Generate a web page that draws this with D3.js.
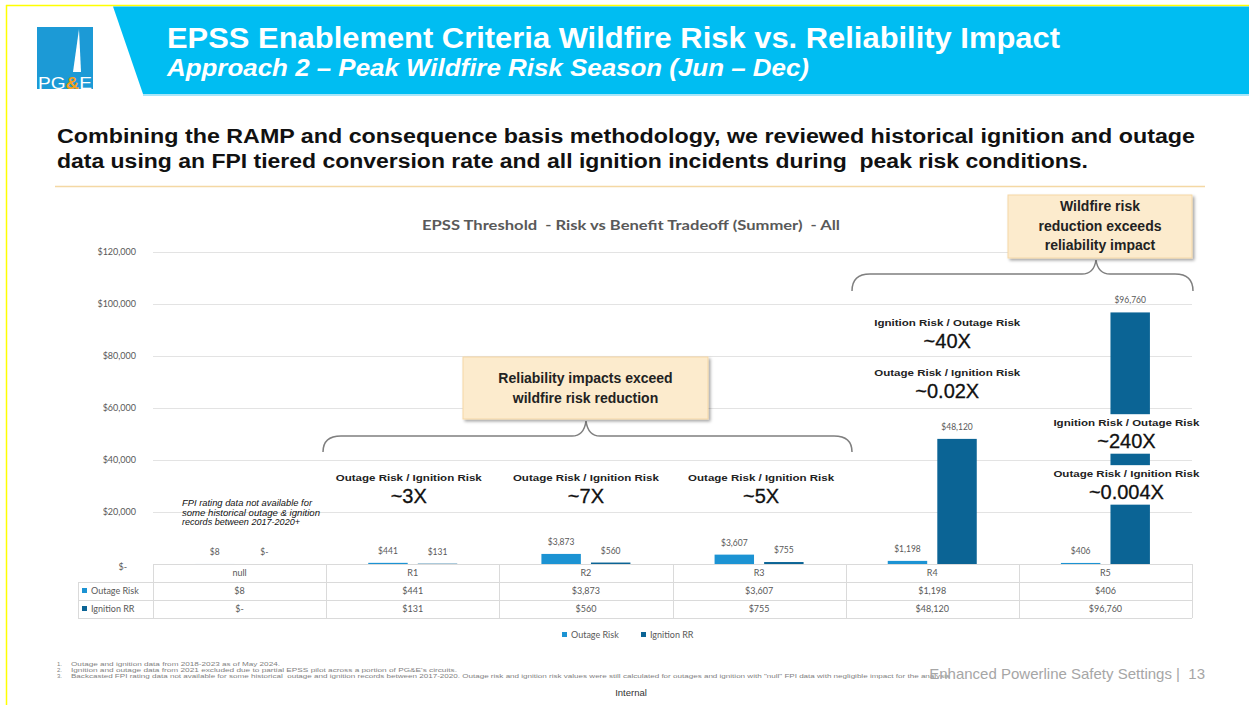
<!DOCTYPE html>
<html>
<head>
<meta charset="utf-8">
<script src="https://cdn.jsdelivr.net/npm/d3@7"></script>
<style>
  body { margin: 0; background: #fff; }
  text { white-space: pre; }
</style>
</head>
<body>
<script>
// Chart data
var categories = ["null", "R1", "R2", "R3", "R4", "R5"];
var seriesNames = ["Outage Risk", "Ignition RR"];
var outageRisk = [8, 441, 3873, 3607, 1198, 406];
var ignitionRR = [0, 131, 560, 755, 48120, 96760];
var yTicks = [0, 20000, 40000, 60000, 80000, 100000, 120000];
var seriesColors = ["#1C93D3", "#0B6495"];

// Ratio annotations: category, label, ratio text, value where the label sits
var ratioNotes = [
  { cat: "R1", label: "Outage Risk / Ignition Risk", ratio: "~3X", at: 32000, dx: -4 },
  { cat: "R2", label: "Outage Risk / Ignition Risk", ratio: "~7X", at: 32000, dx: 0 },
  { cat: "R3", label: "Outage Risk / Ignition Risk", ratio: "~5X", at: 32000, dx: 2 },
  { cat: "R4", label: "Ignition Risk / Outage Risk", ratio: "~40X", at: 91500, dx: 15 },
  { cat: "R4", label: "Outage Risk / Ignition Risk", ratio: "~0.02X", at: 72300, dx: 15 },
  { cat: "R5", label: "Ignition Risk / Outage Risk", ratio: "~240X", at: 53000, dx: 21, mask: true },
  { cat: "R5", label: "Outage Risk / Ignition Risk", ratio: "~0.004X", at: 33400, dx: 21, mask: true }
];

var footnotes = [
  ["1.", "Outage and ignition data from 2018-2023 as of May 2024."],
  ["2.", "Ignition and outage data from 2021 excluded due to partial EPSS pilot across a portion of PG&E's circuits."],
  ["3.", "Backcasted FPI rating data not available for some historical  outage and ignition records between 2017-2020. Outage risk and ignition risk values were still calculated for outages and ignition with \"null\" FPI data with negligible impact for the analysis"]
];
var footnoteWidths = [209, 386, 879];

var W = 1249, H = 705;
var slideFont = "'Liberation Sans', Arial, sans-serif";
var chartFont = "Lato, 'Open Sans', sans-serif";

var svg = d3.select("body").append("svg")
  .attr("width", W)
  .attr("height", H)
  .style("font-family", slideFont);

var defs = svg.append("defs");
defs.append("filter")
  .attr("id", "shadow")
  .attr("x", "-10%").attr("y", "-10%")
  .attr("width", "130%").attr("height", "140%")
  .append("feDropShadow")
    .attr("dx", 2).attr("dy", 2)
    .attr("stdDeviation", 1.5)
    .attr("flood-color", "#000")
    .attr("flood-opacity", 0.35);

/* Slide frame and header banner
*/
svg.append("line")
  .attr("x1", 6).attr("x2", W).attr("y1", 5.5).attr("y2", 5.5)
  .attr("stroke", "#FFFF00").attr("stroke-width", 1.5);
svg.append("line")
  .attr("x1", 6.5).attr("x2", 6.5).attr("y1", 5).attr("y2", H)
  .attr("stroke", "#FFFF00").attr("stroke-width", 1.5);

svg.append("polygon")
  .attr("points", "113,6.5 " + W + ",6.5 " + W + ",94 143,94")
  .attr("fill", "#00BDF2");
svg.append("rect")
  .attr("x", 143).attr("y", 94).attr("width", W - 143).attr("height", 2)
  .attr("fill", "#A9E6F8");

// PG&E logo
var logo = svg.append("g");
logo.append("rect")
  .attr("x", 37).attr("y", 27).attr("width", 56).attr("height", 62)
  .attr("fill", "#1C9AD6");
logo.append("polygon")
  .attr("points", "79,29 81,72 73,72")
  .attr("fill", "#fff");
logo.append("text")
  .attr("x", 38).attr("y", 89)
  .attr("textLength", 54).attr("lengthAdjust", "spacingAndGlyphs")
  .attr("font-size", 17).attr("fill", "#fff")
  .html('PG<tspan fill="#F6A01A" font-weight="bold">&amp;</tspan>E');

svg.append("text")
  .attr("x", 167).attr("y", 47.5)
  .attr("textLength", 893).attr("lengthAdjust", "spacingAndGlyphs")
  .attr("font-size", 29).attr("font-weight", "bold").attr("fill", "#fff")
  .text("EPSS Enablement Criteria Wildfire Risk vs. Reliability Impact");
svg.append("text")
  .attr("x", 167).attr("y", 76)
  .attr("textLength", 642).attr("lengthAdjust", "spacingAndGlyphs")
  .attr("font-size", 23).attr("font-weight", "bold").attr("font-style", "italic").attr("fill", "#fff")
  .text("Approach 2 \u2013 Peak Wildfire Risk Season (Jun \u2013 Dec)");

// Lead text
svg.append("text")
  .attr("x", 57).attr("y", 143)
  .attr("textLength", 1138).attr("lengthAdjust", "spacingAndGlyphs")
  .attr("font-size", 20).attr("font-weight", "bold").attr("fill", "#111")
  .text("Combining the RAMP and consequence basis methodology, we reviewed historical ignition and outage");
svg.append("text")
  .attr("x", 57).attr("y", 168)
  .attr("textLength", 1031).attr("lengthAdjust", "spacingAndGlyphs")
  .attr("font-size", 20).attr("font-weight", "bold").attr("fill", "#111")
  .text("data using an FPI tiered conversion rate and all ignition incidents during  peak risk conditions.");
svg.append("line")
  .attr("x1", 55).attr("x2", 1205).attr("y1", 186.5).attr("y2", 186.5)
  .attr("stroke", "#F4D8A4").attr("stroke-width", 1.5);

/* Chart scales
*/
var x = d3.scaleBand().domain(categories).range([153, 1192]);
var bw = x.bandwidth();
var xs = d3.scaleBand().domain(seriesNames)
  .range([bw * 0.243, bw * 0.757]).paddingInner(0.204);
var y = d3.scaleLinear().domain([0, 120000]).range([564, 252]);
var money = function(v) { return v === 0 ? "$-" : "$" + d3.format(",")(v); };

var chart = svg.append("g").style("font-family", chartFont);

chart.append("text")
  .attr("x", 631).attr("y", 230)
  .attr("text-anchor", "middle")
  .attr("textLength", 418).attr("lengthAdjust", "spacingAndGlyphs")
  .attr("font-size", 12.5).attr("font-weight", "bold").attr("fill", "#595959")
  .text("EPSS Threshold  - Risk vs Benefit Tradeoff (Summer)  - All");

// Gridlines
chart.append("g")
  .selectAll("line")
  .data(yTicks.filter(function(d) { return d > 0; }))
  .enter().append("line")
    .attr("x1", 153).attr("x2", 1192)
    .attr("y1", function(d) { return Math.round(y(d)) + 0.5; })
    .attr("y2", function(d) { return Math.round(y(d)) + 0.5; })
    .attr("stroke", "#E3E3E3");

// Y axis labels
var yAxis = chart.append("g")
  .attr("transform", "translate(136,0)")
  .call(d3.axisLeft(y).tickValues(yTicks).tickFormat(money).tickSize(0).tickPadding(0));
yAxis.select(".domain").remove();
yAxis.selectAll("text")
  .attr("font-family", chartFont).attr("font-size", 9).attr("fill", "#595959")
  .attr("dx", function(d) { return d === 0 ? -9 : 0; })
  .attr("dy", function(d) { return d === 0 ? "0.6em" : "0.32em"; });

// Bars
var series = [outageRisk, ignitionRR];
var bars = chart.append("g");
series.forEach(function(vals, si) {
  bars.selectAll(".bar-" + si)
    .data(vals)
    .enter().append("rect")
      .attr("class", "bar-" + si)
      .attr("x", function(d, i) { return x(categories[i]) + xs(seriesNames[si]); })
      .attr("width", xs.bandwidth())
      .attr("y", function(d) { return y(d); })
      .attr("height", function(d) { return y(0) - y(d); })
      .attr("fill", seriesColors[si]);

  bars.selectAll(".lbl-" + si)
    .data(vals)
    .enter().append("text")
      .attr("x", function(d, i) { return x(categories[i]) + xs(seriesNames[si]) + xs.bandwidth() / 2; })
      .attr("y", function(d) { return y(d) - 9; })
      .attr("text-anchor", "middle")
      .attr("font-size", 8.5).attr("fill", "#595959")
      .text(money);
});

// Data table
var table = chart.append("g").attr("stroke", "#DADADA").attr("stroke-width", 1);
[564, 582, 600, 618].forEach(function(ry, i) {
  table.append("line")
    .attr("x1", i === 0 ? 153 : 78).attr("x2", 1192)
    .attr("y1", ry + 0.5).attr("y2", ry + 0.5);
});
table.selectAll(".vcol")
  .data(categories.concat(["end"]))
  .enter().append("line")
    .attr("x1", function(d, i) { return Math.round(153 + i * bw) + 0.5; })
    .attr("x2", function(d, i) { return Math.round(153 + i * bw) + 0.5; })
    .attr("y1", 564).attr("y2", 618);
table.append("line").attr("x1", 78.5).attr("x2", 78.5).attr("y1", 582).attr("y2", 618);

chart.append("g").selectAll("text")
  .data(categories)
  .enter().append("text")
    .attr("x", function(d) { return x(d) + bw / 2; })
    .attr("y", 576)
    .attr("text-anchor", "middle").attr("font-size", 9).attr("fill", "#595959")
    .text(function(d) { return d; });

series.forEach(function(vals, si) {
  var ry = 594 + si * 18;
  chart.append("rect")
    .attr("x", 82).attr("y", ry - 6).attr("width", 5).attr("height", 5)
    .attr("fill", seriesColors[si]);
  chart.append("text")
    .attr("x", 91).attr("y", ry)
    .attr("font-size", 9).attr("fill", "#595959")
    .text(seriesNames[si]);
  chart.append("g").selectAll("text")
    .data(vals)
    .enter().append("text")
      .attr("x", function(d, i) { return x(categories[i]) + bw / 2; })
      .attr("y", ry)
      .attr("text-anchor", "middle").attr("font-size", 9).attr("fill", "#595959")
      .text(money);
});

// Legend
var legendX = [562, 641];
seriesNames.forEach(function(name, si) {
  chart.append("rect")
    .attr("x", legendX[si]).attr("y", 632).attr("width", 5).attr("height", 5)
    .attr("fill", seriesColors[si]);
  chart.append("text")
    .attr("x", legendX[si] + 9).attr("y", 638)
    .attr("font-size", 9).attr("fill", "#595959")
    .text(name);
});

/* Annotations
*/
var notes = svg.append("g");
ratioNotes.forEach(function(n) {
  var cx = x(n.cat) + bw / 2 + n.dx;
  var by = y(n.at);
  if (n.mask) {
    notes.append("rect")
      .attr("x", cx - 76).attr("y", by - 12)
      .attr("width", 152).attr("height", 39.5)
      .attr("fill", "#fff");
  }
  notes.append("text")
    .attr("x", cx).attr("y", by)
    .attr("text-anchor", "middle")
    .attr("font-size", 9.5).attr("font-weight", "bold").attr("fill", "#222")
    .attr("textLength", 146).attr("lengthAdjust", "spacingAndGlyphs")
    .text(n.label);
  notes.append("text")
    .attr("x", cx).attr("y", by + 22)
    .attr("text-anchor", "middle")
    .attr("font-size", 20).attr("fill", "#111")
    .attr("stroke", "#111").attr("stroke-width", 0.3)
    .text(n.ratio);
});

// FPI note
["FPI rating data not available for", "some historical outage & ignition", "records between 2017-2020+"]
  .forEach(function(t, i) {
    notes.append("text")
      .attr("x", 182).attr("y", 506 + i * 9.5)
      .attr("font-size", 8.5).attr("font-style", "italic").attr("fill", "#111")
      .attr("textLength", [130, 138, 118][i]).attr("lengthAdjust", "spacingAndGlyphs")
      .text(t);
  });

// Braces
notes.append("path")
  .attr("d", "M323,452 Q323,436 341,436 L572,436 Q584,436 586,421 Q588,436 600,436 L834,436 Q852,436 852,452")
  .attr("fill", "none").attr("stroke", "#7F7F7F").attr("stroke-width", 1.5);
notes.append("path")
  .attr("d", "M852,291 Q852,274 870,274 L1082,274 Q1094,274 1096,260 Q1098,274 1110,274 L1175,274 Q1193,274 1193,291")
  .attr("fill", "none").attr("stroke", "#7F7F7F").attr("stroke-width", 1.5);

// Callout boxes
function callout(bx, by, bwid, bht, lines, top) {
  notes.append("rect")
    .attr("x", bx).attr("y", by).attr("width", bwid).attr("height", bht)
    .attr("fill", "#FCEBCD").attr("stroke", "#F5D7A6").attr("stroke-width", 1)
    .attr("filter", "url(#shadow)");
  lines.forEach(function(t, i) {
    notes.append("text")
      .attr("x", bx + bwid / 2).attr("y", top + i * 19.5)
      .attr("text-anchor", "middle")
      .attr("font-size", 14).attr("font-weight", "bold").attr("fill", "#222")
      .text(t);
  });
}
callout(463, 357, 245, 62, ["Reliability impacts exceed", "wildfire risk reduction"], 383);
callout(1008, 195, 184, 63, ["Wildfire risk", "reduction exceeds", "reliability impact"], 211);

/* Footer
*/
footnotes.forEach(function(f, i) {
  svg.append("text")
    .attr("x", 57).attr("y", 666 + i * 6.2)
    .attr("font-size", 6).attr("fill", "#7F7F7F")
    .text(f[0]);
  svg.append("text")
    .attr("x", 71).attr("y", 666 + i * 6.2)
    .attr("font-size", 6).attr("fill", "#7F7F7F")
    .attr("textLength", footnoteWidths[i]).attr("lengthAdjust", "spacingAndGlyphs")
    .text(f[1]);
});
svg.append("text")
  .attr("x", 1205).attr("y", 679)
  .attr("text-anchor", "end")
  .attr("font-size", 15).attr("fill", "#A6A6A6")
  .text("Enhanced Powerline Safety Settings |  13");
svg.append("text")
  .attr("x", 631).attr("y", 696)
  .attr("text-anchor", "middle")
  .attr("font-size", 9.5).attr("fill", "#333")
  .text("Internal");
</script>
</body>
</html>
